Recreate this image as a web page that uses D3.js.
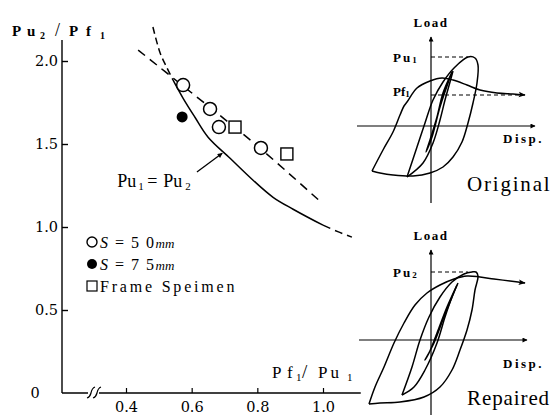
<!DOCTYPE html>
<html><head><meta charset="utf-8">
<script src="https://cdn.jsdelivr.net/npm/d3@7/dist/d3.min.js"></script>
<style>body{margin:0;background:#fff}svg{display:block}text{fill:#000}</style>
</head><body>
<script>
// ---------- main chart data ----------
const xTicks = [0.4, 0.6, 0.8, 1.0];
const yTicks = [0.5, 1.0, 1.5, 2.0];
const s50X = [0.574, 0.656, 0.683, 0.811];
const s50Y = [1.855, 1.711, 1.602, 1.476];
const s75X = [0.571];
const s75Y = [1.663];
const frameX = [0.732, 0.890];
const frameY = [1.602, 1.440];
// Pu1 = Pu2 curve (dashed upper part, solid part, dashed lower part)
const limitHiX = [0.482, 0.504, 0.525, 0.543];
const limitHiY = [2.205, 2.048, 1.958, 1.886];
const limitX = [0.543, 0.574, 0.610, 0.650, 0.717, 0.787, 0.848, 0.909, 1.000];
const limitY = [1.886, 1.775, 1.661, 1.541, 1.414, 1.282, 1.179, 1.107, 1.011];
const limitLoX = [1.000, 1.045, 1.088];
const limitLoY = [1.011, 0.972, 0.939];
// dashed trend line through the test points
const trendX = [0.437, 0.574, 0.700, 0.811, 0.991];
const trendY = [2.066, 1.849, 1.650, 1.470, 1.155];

// ---------- inset data (disp, load in arbitrary units) ----------
const origReload = [[-59,-45],[-48,-24],[-38,-6],[-31,11],[-27,20],[-24,24],[-14,38],[-1,45],[11,48],[22,46],[36,41],[49,36],[66,33],[82,32],[94,31]];
const origMain = [[-24,-51],[-14,-21],[-6,3],[2,26],[12,44],[24,59],[37,69],[44,68],[47,61],[46,43],[42,23],[37,3],[31,-16],[22,-31],[12,-41],[-1,-47],[-18,-50],[-38,-49],[-51,-47],[-59,-45]];
const origMid = [[22,55],[19,44],[14,26],[9,6],[2,-17],[-8,-37],[-24,-51]];
const origInner = [[21,54],[12,33],[6,9],[-1,-14],[-5,-26],[1,-11],[9,19],[21,54]];
const origPu = 69, origPf = 31;

const repReload = [[-62,-64],[-56,-47],[-47,-27],[-37,-3],[-27,17],[-16,35],[-4,47],[9,55],[23,61],[36,64],[49,63],[63,61],[79,59],[94,57]];
const repMain = [[-29,-55],[-19,-27],[-11,0],[-2,23],[9,43],[21,58],[33,66],[41,68],[45,68],[47,64],[44,50],[41,30],[36,10],[29,-10],[21,-30],[9,-47],[-7,-57],[-31,-62],[-51,-63],[-62,-64]];
const repMid = [[27,57],[21,43],[14,23],[6,-3],[-6,-30],[-17,-47],[-29,-55]];
const repInner = [[26,55],[16,33],[6,7],[-2,-13],[-6,-20],[3,-3],[13,23],[26,55]];
const repPu = 68;

const W = 556, H = 417;
const svg = d3.select("body").append("svg").attr("width", W).attr("height", H);
const defs = svg.append("defs");
defs.append("marker").attr("id","ah").attr("viewBox","0 0 10 10").attr("refX",9).attr("refY",5)
  .attr("markerWidth",7).attr("markerHeight",5).attr("orient","auto").attr("markerUnits","userSpaceOnUse")
  .append("path").attr("d","M0,0 L10,5 L0,10 Z").attr("fill","#000");
defs.append("marker").attr("id","ah2").attr("viewBox","0 0 10 10").attr("refX",9).attr("refY",5)
  .attr("markerWidth",10).attr("markerHeight",7).attr("orient","auto").attr("markerUnits","userSpaceOnUse")
  .append("path").attr("d","M0,1 L10,5 L0,9 L2,5 Z").attr("fill","#000");

const serif = "'Liberation Serif','DejaVu Serif',serif";
const x = d3.scaleLinear().domain([0.4, 1.0]).range([126, 323]);
const y = d3.scaleLinear().domain([0, 2.0]).range([393, 61]);
const x0 = 62;

// axes
svg.append("line").attr("x1",x0).attr("x2",x0).attr("y1",y(0)).attr("y2",40).attr("stroke","#000").attr("stroke-width",1.4);
svg.append("line").attr("x1",x0).attr("x2",x(1.115)).attr("y1",y(0)).attr("y2",y(0)).attr("stroke","#000").attr("stroke-width",1.4);

const yAxis = d3.axisLeft(y).tickValues(yTicks).tickSize(-6).tickPadding(4).tickFormat(d3.format(".1f"));
const gy = svg.append("g").attr("transform",`translate(${x0},0)`).call(yAxis);
gy.select(".domain").remove();
gy.selectAll("line").attr("stroke-width",1.4);
gy.selectAll("text").attr("font-family","'DejaVu Serif',serif").attr("font-size",14.5);

const xAxis = d3.axisBottom(x).tickValues(xTicks).tickSize(-5).tickPadding(9).tickFormat(d3.format(".1f"));
const gx = svg.append("g").attr("transform",`translate(0,${y(0)})`).call(xAxis);
gx.select(".domain").remove();
gx.selectAll("line").attr("stroke-width",1.2);
gx.selectAll("text").attr("font-family","'DejaVu Serif',serif").attr("font-size",14.5);

svg.append("text").attr("x",35).attr("y",y(0)+5).attr("text-anchor","middle")
  .attr("font-family","'DejaVu Serif',serif").attr("font-size",14.5).text("0");

// axis break
svg.append("rect").attr("x",88).attr("y",y(0)-2).attr("width",11).attr("height",4).attr("fill","#fff");
[0,6].forEach(o=>{
  svg.append("path").attr("d",`M${87+o},${y(0)+5} Q${90+o},${y(0)+4} ${91+o},${y(0)} Q${92+o},${y(0)-5} ${95+o},${y(0)-6}`)
    .attr("fill","none").attr("stroke","#000").attr("stroke-width",1.2);
});

// axis titles
const yl = svg.append("text").attr("y",36).attr("font-family",serif).attr("font-weight","bold").attr("font-size",15);
yl.append("tspan").attr("x",12).text("P");
yl.append("tspan").attr("x",27).text("u");
yl.append("tspan").attr("x",40).attr("dy",3).attr("font-size",10).text("2");
yl.append("tspan").attr("x",55).attr("dy",-3).attr("font-size",18).attr("font-weight","normal").text("/");
yl.append("tspan").attr("x",69).text("P");
yl.append("tspan").attr("x",86).text("f");
yl.append("tspan").attr("x",100).attr("dy",3).attr("font-size",10).text("1");

const xl = svg.append("text").attr("y",378).attr("font-family",serif).attr("font-size",17);
xl.append("tspan").attr("x",272).text("P");
xl.append("tspan").attr("x",287).text("f");
xl.append("tspan").attr("x",296).attr("dy",3).attr("font-size",11).text("1");
xl.append("tspan").attr("x",302).attr("dy",-3).attr("font-size",19).text("/");
xl.append("tspan").attr("x",318).attr("letter-spacing",3).text("Pu");
xl.append("tspan").attr("x",347).attr("dy",3).attr("font-size",11).text("1");

// curves
const line = (xs, ys, c) => d3.line().x((d,i)=>x(xs[i])).y((d,i)=>y(ys[i])).curve(c || d3.curveCatmullRom)(xs);
svg.append("path").attr("d",line(limitHiX,limitHiY)).attr("fill","none").attr("stroke","#000").attr("stroke-width",1.5).attr("stroke-dasharray","7,4");
svg.append("path").attr("d",line(limitX,limitY)).attr("fill","none").attr("stroke","#000").attr("stroke-width",1.5);
svg.append("path").attr("d",line(limitLoX,limitLoY)).attr("fill","none").attr("stroke","#000").attr("stroke-width",1.5).attr("stroke-dasharray","8,5");
svg.append("path").attr("d",line(trendX,trendY)).attr("fill","none").attr("stroke","#000").attr("stroke-width",1.5).attr("stroke-dasharray","9,6");

// annotation Pu1=Pu2
svg.append("line").attr("x1",x(0.616)).attr("y1",y(1.331)).attr("x2",x(0.693)).attr("y2",y(1.444))
  .attr("stroke","#000").attr("stroke-width",1.3).attr("marker-end","url(#ah)");
const ax0 = x(0.373);
const al = svg.append("text").attr("y",187).attr("font-family",serif).attr("font-size",18);
al.append("tspan").attr("x",ax0).text("Pu");
al.append("tspan").attr("x",ax0+21).attr("dy",3).attr("font-size",11).text("1");
al.append("tspan").attr("x",ax0+30).attr("dy",-3).text("=");
al.append("tspan").attr("x",ax0+46).text("Pu");
al.append("tspan").attr("x",ax0+68).attr("dy",3).attr("font-size",11).text("2");

// points
s50X.forEach((v,i)=>svg.append("circle").attr("cx",x(v)).attr("cy",y(s50Y[i])).attr("r",6.5).attr("fill","#fff").attr("stroke","#000").attr("stroke-width",1.5));
s75X.forEach((v,i)=>svg.append("circle").attr("cx",x(v)).attr("cy",y(s75Y[i])).attr("r",5.5).attr("fill","#000"));
frameX.forEach((v,i)=>svg.append("rect").attr("x",x(v)-6).attr("y",y(frameY[i])-6).attr("width",12).attr("height",12).attr("fill","#fff").attr("stroke","#000").attr("stroke-width",1.4));

// legend
const lg = svg.append("g").attr("font-family",serif).attr("font-size",16);
lg.append("circle").attr("cx",92).attr("cy",242).attr("r",5).attr("fill","#fff").attr("stroke","#000").attr("stroke-width",1.4);
lg.append("circle").attr("cx",92).attr("cy",264).attr("r",5).attr("fill","#000");
lg.append("rect").attr("x",87).attr("y",281).attr("width",10).attr("height",10).attr("fill","#fff").attr("stroke","#000").attr("stroke-width",1.2);
const t1 = lg.append("text").attr("x",100).attr("y",248).attr("letter-spacing",1.5);
t1.append("tspan").attr("font-style","italic").text("S");
t1.append("tspan").text(" = 5 0");
t1.append("tspan").attr("font-style","italic").attr("font-size",13).attr("letter-spacing",0).text("mm");
const t2 = lg.append("text").attr("x",100).attr("y",270).attr("letter-spacing",1.5);
t2.append("tspan").attr("font-style","italic").text("S");
t2.append("tspan").text(" = 7 5");
t2.append("tspan").attr("font-style","italic").attr("font-size",13).attr("letter-spacing",0).text("mm");
lg.append("text").attr("x",100).attr("y",292).attr("letter-spacing",2.8).text("Frame Speimen");

// ---------- insets ----------
function inset(ox, oy, reload, main, mid, inner, puVal, pfVal, puLabel, pfLabel, title, xAxL, xAxR, yTop, yBot, titleY, dispY, titleSp){
  const sx = d3.scaleLinear().domain([0,100]).range([ox, ox+100]);
  const sy = d3.scaleLinear().domain([0,100]).range([oy, oy-100]);
  const g = svg.append("g");
  const ln = d3.line().x(d=>sx(d[0])).y(d=>sy(d[1])).curve(d3.curveCatmullRom);
  g.append("line").attr("x1",sx(xAxL)).attr("x2",sx(xAxR)).attr("y1",sy(0)).attr("y2",sy(0)).attr("stroke","#000").attr("stroke-width",1.2).attr("marker-end","url(#ah)");
  g.append("line").attr("x1",sx(0)).attr("x2",sx(0)).attr("y1",sy(yBot)).attr("y2",sy(yTop)).attr("stroke","#000").attr("stroke-width",1.2).attr("marker-end","url(#ah)");
  [main, mid, inner].forEach(d=>g.append("path").attr("d",ln(d)).attr("fill","none").attr("stroke","#000").attr("stroke-width",1.5));
  g.append("path").attr("d",ln(reload)).attr("fill","none").attr("stroke","#000").attr("stroke-width",1.5).attr("marker-end","url(#ah2)");
  g.append("line").attr("x1",sx(0)).attr("x2",sx(37)).attr("y1",sy(puVal)).attr("y2",sy(puVal)).attr("stroke","#000").attr("stroke-width",1.1).attr("stroke-dasharray","4,3");
  const fs = serif;
  const pl = g.append("text").attr("x",sx(-38)).attr("y",sy(puVal)+5).attr("font-family",fs).attr("font-weight","bold").attr("font-size",13).attr("letter-spacing",2);
  pl.append("tspan").text("Pu");
  pl.append("tspan").attr("font-size",9).attr("dy",1).text(puLabel);
  if (pfVal !== null){
    g.append("line").attr("x1",sx(0)).attr("x2",sx(88)).attr("y1",sy(pfVal)).attr("y2",sy(pfVal)).attr("stroke","#000").attr("stroke-width",1.1).attr("stroke-dasharray","4,3");
    const fl = g.append("text").attr("x",sx(-38)).attr("y",sy(pfVal)+1).attr("font-family",fs).attr("font-weight","bold").attr("font-size",13);
    fl.append("tspan").text("Pf");
    fl.append("tspan").attr("font-size",9).attr("dy",1).text(pfLabel);
  }
  g.append("text").attr("x",sx(0)).attr("y",sy(yTop)-10).attr("text-anchor","middle").attr("font-family",fs).attr("font-weight","bold").attr("font-size",13).attr("letter-spacing",1.5).text("Load");
  g.append("text").attr("x",sx(72)).attr("y",dispY).attr("font-family",fs).attr("font-weight","bold").attr("font-size",13).attr("letter-spacing",2.5).text("Disp.");
  g.append("text").attr("x",sx(36)).attr("y",titleY).attr("font-family",fs).attr("font-size",21).attr("letter-spacing",titleSp).text(title);
}
inset(431, 126, origReload, origMain, origMid, origInner, origPu, origPf, "1", "1", "Original", -74, 104, 89, -77, 191, 143, 1.8);
inset(431, 340, repReload, repMain, repMid, repInner, repPu, null, "2", "", "Repaired", -72, 96, 90, -75, 405, 368, 0.9);
</script>
</body></html>
